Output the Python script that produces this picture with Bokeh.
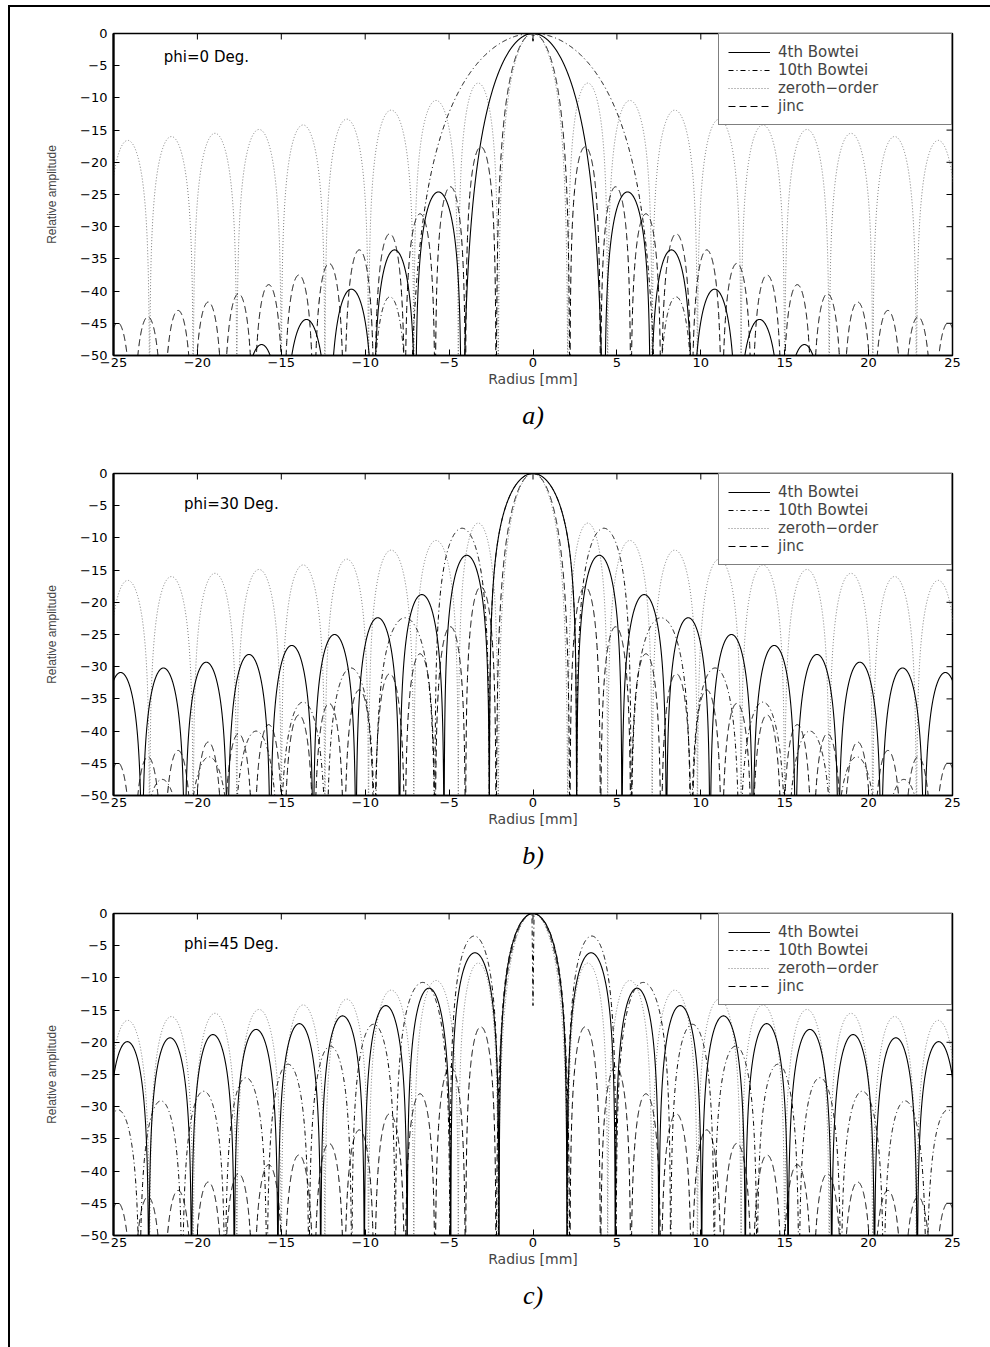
import numpy as np
from bokeh.plotting import figure
from bokeh.models import Range1d, LinearAxis, FixedTicker, Label, Legend, LegendItem, ColumnDataSource
from bokeh.layouts import column
from bokeh.embed import file_html
from bokeh.resources import INLINE

# ---------------- data ----------------
x_ticks = [-25, -20, -15, -10, -5, 0, 5, 10, 15, 20, 25]
x_tick_labels = ["\u221225", "\u221220", "\u221215", "\u221210", "\u22125", "0", "5", "10", "15", "20", "25"]
y_ticks = [0, -5, -10, -15, -20, -25, -30, -35, -40, -45, -50]
y_tick_labels = ["0", "\u22125", "\u221210", "\u221215", "\u221220", "\u221225", "\u221230", "\u221235",
                 "\u221240", "\u221245", "\u221250"]

series_names = ["4th Bowtei", "10th Bowtei", "zeroth\u2212order", "jinc"]
panel_titles = ["phi=0 Deg.", "phi=30 Deg.", "phi=45 Deg."]
panel_letters = ["a)", "b)", "c)"]

# Each pattern is symmetric in radius; listed for r >= 0.
# *_nulls: null radii [mm]; *_peaks: lobe peak level [dB] (first = main lobe)
zeroth_nulls = [2.08, 4.45, 7.1, 9.8, 12.4, 15.0, 17.65, 20.25, 22.85, 25.45]
zeroth_peaks = [0.0, -7.7, -10.4, -11.9, -13.3, -14.2, -14.9, -15.5, -16.0, -16.6]

jinc_nulls = [2.2, 4.02, 5.83, 7.63, 9.45, 11.25, 13.05, 14.85, 16.65, 18.45, 20.25, 22.05, 23.85, 25.65]
jinc_peaks = [0.0, -17.6, -23.8, -28.0, -31.1, -33.6, -35.7, -37.5, -39.0, -40.4, -41.7, -43.0, -44.0, -44.9]

# phi = 0
bow4_a_nulls = [4.27, 7.0, 9.5, 12.15, 14.85, 17.5]
bow4_a_peaks = [0.0, -24.6, -33.6, -39.7, -44.4, -48.3]
bow10_a_nulls = [7.45, 9.6]
bow10_a_peaks = [0.0, -40.9]
bow10_a_notch = -1.2

# phi = 30
bow4_b_nulls = [2.6, 5.3, 7.95, 10.55, 13.1, 15.65, 18.2, 20.75, 23.3, 25.85]
bow4_b_peaks = [0.0, -12.7, -18.8, -22.4, -25.0, -26.7, -28.1, -29.3, -30.2, -30.9]
bow10_b_nulls = [2.6, 5.85, 9.4, 12.3, 15.1, 17.9, 20.7, 23.5, 26.3]
bow10_b_peaks = [0.0, -8.5, -22.4, -30.2, -35.5, -40.0, -44.0, -47.5, -50.0]
bow10_b_notch = None

# phi = 45
bow4_c_nulls = [2.02, 4.9, 7.5, 10.05, 12.65, 15.2, 17.8, 20.35, 22.9, 25.45]
bow4_c_peaks = [0.0, -6.1, -11.6, -14.3, -15.9, -17.1, -18.0, -18.8, -19.3, -19.9]
bow10_c_nulls = [2.05, 4.95, 8.2, 10.8, 13.35, 15.85, 18.35, 20.9, 23.45, 26.0]
bow10_c_peaks = [0.0, -3.5, -10.7, -17.2, -20.6, -23.4, -25.5, -27.6, -29.1, -30.5]
bow10_c_notch = -14.3

# main-lobe roundness exponent per curve
main_exp = {"a": (2.2, 2.0), "b": (1.0, 1.0), "c": (1.0, 1.0)}
zeroth_main_exp = 1.4
jinc_main_exp = 1.4


# ---------------- curve construction ----------------
FLOOR = -80.0


def to_db(amp, peak):
    return np.maximum(peak + 20.0 * np.log10(np.maximum(amp, 1e-9)), FLOOR)


def build(nulls, peaks, main_q, side_q=1.0, notch=None):
    xs, ys = [], []
    z = nulls[0]
    t = np.linspace(0.0, z, 500)
    amp = np.cos(np.pi / 2.0 * t / z) ** main_q
    xs.append(t)
    ys.append(to_db(amp, peaks[0]))
    for i in range(1, len(nulls)):
        a, b = nulls[i - 1], nulls[i]
        t = np.linspace(a, b, 300)
        amp = np.abs(np.sin(np.pi * (t - a) / (b - a))) ** side_q
        xs.append(t)
        ys.append(to_db(amp, peaks[i]))
    if nulls[-1] < 25.5:
        xs.append(np.array([nulls[-1], 25.5]))
        ys.append(np.array([FLOOR, FLOOR]))
    x = np.concatenate(xs)
    y = np.concatenate(ys)
    if notch is not None:
        w = 0.06
        keep = x >= w
        x = np.concatenate([[0.0], x[keep]])
        y = np.concatenate([[notch], y[keep]])
    xf = np.concatenate([-x[::-1], x[1:]])
    yf = np.concatenate([y[::-1], y[1:]])
    return xf, yf


styles = [
    dict(line_color="black", line_width=1.1, line_dash="solid"),
    dict(line_color="black", line_width=1.0, line_dash="5 3 1 3"),
    dict(line_color="#7a7a7a", line_width=1.0, line_dash="1 2"),
    dict(line_color="black", line_width=1.0, line_dash="7 4"),
]

FONT = "DejaVu Sans"


def make_panel(key, idx, b4n, b4p, b10n, b10p, b10notch, bottom):
    q4, q10 = main_exp[key]
    p = figure(frame_width=839, frame_height=322,
               x_range=Range1d(-25, 25), y_range=Range1d(-50, 0),
               x_axis_type=None, y_axis_type=None,
               output_backend="svg", toolbar_location=None,
               min_border_left=103, min_border_right=38,
               min_border_top=26, min_border_bottom=bottom,
               background_fill_color="white", border_fill_color="white")
    p.xgrid.visible = False
    p.ygrid.visible = False
    p.outline_line_color = "black"
    p.outline_line_width = 1.5

    xo = {t: l for t, l in zip(x_ticks, x_tick_labels)}
    yo = {t: l for t, l in zip(y_ticks, y_tick_labels)}

    below = LinearAxis(ticker=FixedTicker(ticks=x_ticks), major_label_overrides=xo, axis_label="Radius [mm]")
    left = LinearAxis(ticker=FixedTicker(ticks=y_ticks), major_label_overrides=yo, axis_label="Relative amplitude")
    for ax in (below, left):
        ax.major_tick_in = 6
        ax.major_tick_out = 0
        ax.minor_tick_in = 0
        ax.minor_tick_out = 0
        ax.axis_line_color = "black"
        ax.axis_line_width = 1.5
        ax.major_tick_line_color = "black"
        ax.major_label_text_font = FONT
        ax.major_label_text_font_size = "13px"
        ax.major_label_text_color = "black"
    left.axis_line_width = 2.2
    below.major_label_standoff = 2
    left.major_label_standoff = 6
    below.axis_label_text_font = FONT
    below.axis_label_text_font_size = "14px"
    below.axis_label_text_font_style = "normal"
    below.axis_label_standoff = 1
    left.axis_label_text_font = "Liberation Sans"
    left.axis_label_text_font_size = "12px"
    left.axis_label_text_font_style = "normal"
    left.axis_label_standoff = 18
    p.add_layout(below, "below")
    p.add_layout(left, "left")

    # inward tick marks on the top and right edges of the box
    p.ray(x=x_ticks, y=[p.y_range.end] * len(x_ticks), length=6, length_units="screen",
          angle=-np.pi / 2, line_color="black", line_width=1)
    p.ray(x=[p.x_range.end] * len(y_ticks), y=y_ticks, length=6, length_units="screen",
          angle=np.pi, line_color="black", line_width=1)

    # panel letter below the axis label
    p.title.text = panel_letters[idx]
    p.title_location = "below"
    p.title.align = "center"
    p.title.text_font = "Liberation Serif"
    p.title.text_font_style = "italic"
    p.title.text_font_size = "26px"
    p.title.text_color = "black"
    p.title.standoff = 19

    curves = [
        build(b4n, b4p, q4, 1.0),
        build(b10n, b10p, q10, 1.0, b10notch),
        build(zeroth_nulls, zeroth_peaks, zeroth_main_exp, 1.0),
        build(jinc_nulls, jinc_peaks, jinc_main_exp, 1.0),
    ]
    order = [2, 3, 1, 0]
    rmap = {}
    for k in order:
        xs, ys = curves[k]
        src = ColumnDataSource(data=dict(x=xs, y=ys))
        rmap[k] = p.line("x", "y", source=src, **styles[k])
    renderers = [rmap[k] for k in range(4)]

    legend = Legend(items=[LegendItem(label=series_names[k], renderers=[renderers[k]]) for k in range(4)],
                    location="top_right", margin=0, padding=9, spacing=0,
                    label_height=18, glyph_height=18, glyph_width=42, label_standoff=8,
                    label_width=164, border_line_color="black", border_line_width=1.5,
                    background_fill_color="white", background_fill_alpha=1.0,
                    label_text_font=FONT, label_text_font_size="15px",
                    label_text_baseline="middle")
    p.add_layout(legend)

    ty = -3.6 if idx == 0 else -4.7
    tx = -22.0 if idx == 0 else -20.8
    p.add_layout(Label(x=tx, y=ty, text=panel_titles[idx], text_baseline="middle",
                       text_font=FONT, text_font_size="15px", text_color="black"))
    return p


pa = make_panel("a", 0, bow4_a_nulls, bow4_a_peaks, bow10_a_nulls, bow10_a_peaks, bow10_a_notch, 92)
pb = make_panel("b", 1, bow4_b_nulls, bow4_b_peaks, bow10_b_nulls, bow10_b_peaks, bow10_b_notch, 92)
pc = make_panel("c", 2, bow4_c_nulls, bow4_c_peaks, bow10_c_nulls, bow10_c_peaks, bow10_c_notch, 112)

layout = column(pa, pb, pc, spacing=0, margin=(5, 0, 0, 8),
                styles={"border-left": "2px solid black", "border-top": "2px solid black",
                        "background-color": "white"})

html = file_html(layout, INLINE, title="Relative amplitude")
html = html.replace("<body>", "<body style=\"margin:0;background:white;\">")
open("out.html", "w").write(html)
